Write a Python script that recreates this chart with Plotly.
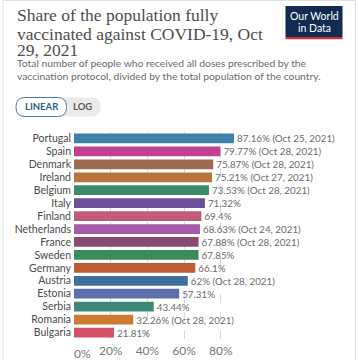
import plotly.graph_objects as go

countries = ["Portugal", "Spain", "Denmark", "Ireland", "Belgium", "Italy", "Finland",
             "Netherlands", "France", "Sweden", "Germany", "Austria", "Estonia",
             "Serbia", "Romania", "Bulgaria"]
values = [87.16, 79.77, 75.87, 75.21, 73.53, 71.32, 69.4, 68.63, 67.88, 67.85,
          66.1, 62, 57.31, 43.44, 32.26, 21.81]
value_text = ["87.16%", "79.77%", "75.87%", "75.21%", "73.53%", "71.32%", "69.4%",
              "68.63%", "67.88%", "67.85%", "66.1%", "62%", "57.31%", "43.44%",
              "32.26%", "21.81%"]
date_notes = ["Oct 25, 2021", "Oct 28, 2021", "Oct 28, 2021", "Oct 27, 2021",
              "Oct 28, 2021", "", "", "Oct 24, 2021", "Oct 28, 2021", "", "",
              "Oct 28, 2021", "", "", "Oct 28, 2021", ""]
colors = ["#3f82a8", "#c2418e", "#9d6a50", "#b8743c", "#3b8c6d", "#6c4f9b",
          "#c45a77", "#a35baa", "#8b4a72", "#3a8d5b", "#be5b2f", "#41709d",
          "#5d6fa8", "#3b8877", "#ce7a33", "#d24f68"]
tick_vals = [0, 20, 40, 60, 80]
tick_text = ["", "20%", "40%", "60%", "80%"]

W, H = 359, 360
L, R, T, B = 74, 4, 132, 21
PW, PH = W - L - R, H - T - B


def fx(x):
    return (x - L) / PW


def fy(y):
    return (H - B - y) / PH


labels = [v + (f" ({d})" if d else "") for v, d in zip(value_text, date_notes)]

fig = go.Figure()
fig.add_trace(go.Bar(
    x=values, y=countries, orientation="h",
    marker=dict(color=colors, line=dict(width=0)),
    text=labels, textposition="outside", constraintext="none", cliponaxis=False,
    textfont=dict(family="Lato", size=9.8, color="#6b6b6b"),
    hoverinfo="skip",
))

annotations = []
font_serif = "Liberation Serif"
title_lines = [("Share of the population fully", 15.5),
               ("vaccinated against COVID-19, Oct", 33.5),
               ("29, 2021", 49.5)]
for txt, cy in title_lines:
    annotations.append(dict(text=txt, xref="paper", yref="paper", x=fx(15), y=fy(cy),
                            xanchor="left", yanchor="middle", showarrow=False,
                            font=dict(family=font_serif, size=17.5, color="#4d4d4d")))
sub_lines = [("Total number of people who received all doses prescribed by the", 63),
             ("vaccination protocol, divided by the total population of the country.", 76)]
for txt, cy in sub_lines:
    annotations.append(dict(text=txt, xref="paper", yref="paper", x=fx(15), y=fy(cy),
                            xanchor="left", yanchor="middle", showarrow=False,
                            font=dict(family="Lato", size=10.3, color="#6a6a6a")))
# logo text
for txt, cy in [("Our World", 16), ("in Data", 28)]:
    annotations.append(dict(text=txt, xref="paper", yref="paper", x=fx(314), y=fy(cy),
                            xanchor="center", yanchor="middle", showarrow=False,
                            font=dict(family="Lato", size=10.5, color="white")))
# toggle text
annotations.append(dict(text="<b>LINEAR</b>", xref="paper", yref="paper", x=fx(41.5), y=fy(107),
                        xanchor="center", yanchor="middle", showarrow=False,
                        font=dict(family="Lato", size=9.5, color="#2f6286")))
annotations.append(dict(text="<b>LOG</b>", xref="paper", yref="paper", x=fx(82), y=fy(107),
                        xanchor="center", yanchor="middle", showarrow=False,
                        font=dict(family="Lato", size=9.5, color="#5a5a5a")))
# 0% tick label (left-aligned as in the original)
annotations.append(dict(text="0%", xref="x", yref="paper", x=0, y=fy(353.5),
                        xanchor="left", yanchor="middle", showarrow=False, xshift=-2,
                        font=dict(family="Lato", size=12, color="#777777")))

shapes = []
# outer frame
shapes.append(dict(type="rect", xref="paper", yref="paper", x0=fx(3), x1=fx(355.5),
                   y0=fy(370), y1=fy(0.5), line=dict(color="#e2e2e2", width=1), layer="below"))
# logo
shapes.append(dict(type="rect", xref="paper", yref="paper", x0=fx(285.5), x1=fx(342.5),
                   y0=fy(37), y1=fy(6), fillcolor="#132b52", line=dict(width=0)))
shapes.append(dict(type="rect", xref="paper", yref="paper", x0=fx(285.5), x1=fx(342.5),
                   y0=fy(39.3), y1=fy(37), fillcolor="#cf2e2e", line=dict(width=0)))


def rounded_path(x0, y0, x1, y1, r, left=True, right=True):
    X0, X1 = fx(x0), fx(x1)
    Y0, Y1 = fy(y0), fy(y1)
    rx = r / PW
    ry = r / PH
    p = []
    if left:
        p.append(f"M {X0 + rx},{Y0}")
    else:
        p.append(f"M {X0},{Y0}")
    if right:
        p.append(f"L {X1 - rx},{Y0} Q {X1},{Y0} {X1},{Y0 - ry} L {X1},{Y1 + ry} Q {X1},{Y1} {X1 - rx},{Y1}")
    else:
        p.append(f"L {X1},{Y0} L {X1},{Y1}")
    if left:
        p.append(f"L {X0 + rx},{Y1} Q {X0},{Y1} {X0},{Y1 + ry} L {X0},{Y0 - ry} Q {X0},{Y0} {X0 + rx},{Y0} Z")
    else:
        p.append(f"L {X0},{Y1} Z")
    return " ".join(p)


shapes.append(dict(type="path", xref="paper", yref="paper",
                   path=rounded_path(62, 97.5, 100.5, 116.5, 9, left=False, right=True),
                   fillcolor="#ebebeb", line=dict(width=0)))
shapes.append(dict(type="path", xref="paper", yref="paper",
                   path=rounded_path(16, 97.5, 66.5, 116.5, 9, left=True, right=True),
                   fillcolor="white", line=dict(color="#4d7a99", width=1)))

fig.update_layout(
    width=W, height=H,
    margin=dict(l=L, r=R, t=T, b=B, autoexpand=False),
    paper_bgcolor="white", plot_bgcolor="white",
    showlegend=False,
    bargap=0.245,
    annotations=annotations,
    shapes=shapes,
    xaxis=dict(range=[0, 153.1], tickvals=tick_vals, ticktext=tick_text,
               showgrid=True, gridcolor="#d9d9d9", griddash="dash", gridwidth=1,
               zeroline=False, showline=False, ticks="", ticklabelstandoff=3,
               tickfont=dict(family="Lato", size=12, color="#777777"),
               fixedrange=True),
    yaxis=dict(autorange="reversed", showgrid=False, zeroline=False, showline=False,
               ticks="", tickmode="array", tickvals=countries, ticktext=countries,
               ticklabelstandoff=2,
               tickfont=dict(family="Lato", size=10.5, color="#4a4a4a"),
               fixedrange=True),
)

fig.write_html("out.html", config={"displayModeBar": False},
               post_script="document.body.style.margin='0';document.body.style.overflow='hidden';")
